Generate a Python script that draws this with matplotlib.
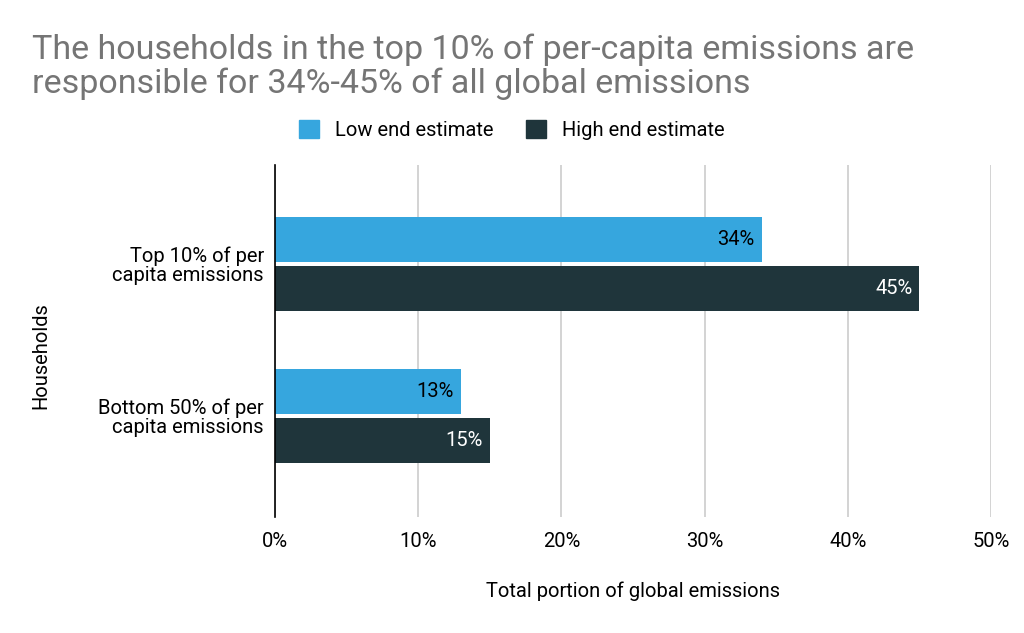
import numpy as np
import matplotlib.pyplot as plt
from matplotlib.patches import Patch

plt.rcParams['font.family'] = ['Roboto', 'DejaVu Sans']

categories = ['Top 10% of per\ncapita emissions', 'Bottom 50% of per\ncapita emissions']
low_end = [34, 13]
high_end = [45, 15]
xticks = [0, 10, 20, 30, 40, 50]

LIGHT = '#36a6de'
DARK = '#1f353b'
FS = 14.5

fig = plt.figure(figsize=(10.24, 6.33), dpi=100)
ax = fig.add_axes([0.2686, 0.1833, 0.6992, 0.556])

y = np.arange(len(categories))
h = 0.296
off = 0.161
ax.barh(y - off, low_end, height=h, color=LIGHT, zorder=3)
ax.barh(y + off, high_end, height=h, color=DARK, zorder=3)

for yi, v in zip(y, low_end):
    ax.text(v - 0.5, yi - off, f'{v}%', ha='right', va='center', fontsize=FS, color='black', zorder=4)
for yi, v in zip(y, high_end):
    ax.text(v - 0.5, yi + off, f'{v}%', ha='right', va='center', fontsize=FS, color='white', zorder=4)

ax.set_xlim(0, 50)
ax.set_ylim(1.664, -0.651)
ax.set_xticks(xticks)
ax.set_xticklabels([f'{t}%' for t in xticks], fontsize=FS)
ax.set_yticks(y)
ax.set_yticklabels(categories, fontsize=FS, linespacing=1.0)
ax.tick_params(axis='x', length=0, pad=11, colors='black')
ax.tick_params(axis='y', length=0, pad=8, colors='black')
ax.grid(axis='x', color='#cccccc', linewidth=1.2, zorder=0)
for s in ['top', 'right', 'bottom']:
    ax.spines[s].set_visible(False)
ax.spines['left'].set_color('black')
ax.spines['left'].set_linewidth(1.2)
ax.spines['left'].set_zorder(5)

ax.set_xlabel('Total portion of global emissions', fontsize=FS, labelpad=22)
fig.text(0.040, 0.4376, 'Households', rotation=90, ha='center', va='center', fontsize=FS)

fig.text(0.031, 0.947, 'The households in the top 10% of per-capita emissions are\nresponsible for 34%-45% of all global emissions',
         fontsize=24.5, color='#757575', ha='left', va='top', linespacing=1.04)

handles = [Patch(color=LIGHT, label='Low end estimate'), Patch(color=DARK, label='High end estimate')]
fig.legend(handles=handles, loc='center', bbox_to_anchor=(0.5, 0.795), ncol=2, frameon=False,
           fontsize=FS, handlelength=1.0, handleheight=1.0, columnspacing=1.6, handletextpad=0.8)

fig.savefig('out.png', dpi=100)
